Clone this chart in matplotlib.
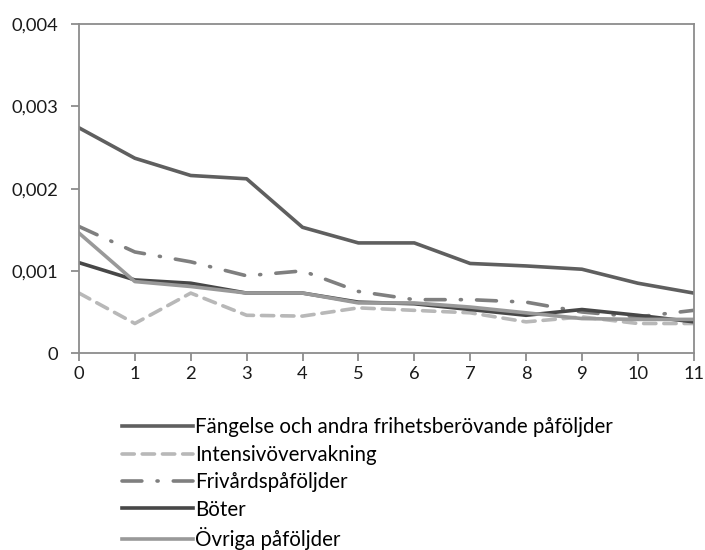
import matplotlib
matplotlib.use("Agg")
import matplotlib.pyplot as plt
from matplotlib.ticker import FuncFormatter

plt.rcParams['font.family'] = ['Lato', 'DejaVu Sans']

# data
years = list(range(12))
fangelse = [0.00274, 0.00237, 0.00216, 0.00212, 0.00153, 0.00134, 0.00134,
            0.00109, 0.00106, 0.00102, 0.00085, 0.00073]
intensiv = [0.00073, 0.00036, 0.00073, 0.00046, 0.00045, 0.00055, 0.00052,
            0.00049, 0.00038, 0.00044, 0.00036, 0.00036]
frivard = [0.00154, 0.00123, 0.00111, 0.00094, 0.00100, 0.00075, 0.00065,
           0.00065, 0.00062, 0.00050, 0.00044, 0.00052]
boter = [0.00110, 0.00089, 0.00085, 0.00073, 0.00073, 0.00062, 0.00060,
         0.00053, 0.00046, 0.00053, 0.00046, 0.00038]
ovriga = [0.00146, 0.00087, 0.00081, 0.00073, 0.00073, 0.00061, 0.00061,
          0.00056, 0.00049, 0.00042, 0.00041, 0.00041]
labels = ["Fängelse och andra frihetsberövande påföljder", "Intensivövervakning",
          "Frivårdspåföljder", "Böter", "Övriga påföljder"]

fig = plt.figure(figsize=(7.05, 5.5), dpi=100)
ax = fig.add_axes([0.112, 0.358, 0.872, 0.598])

lw = 2.6
ax.plot(years, fangelse, color='#5f5f5f', lw=lw, label=labels[0])
ax.plot(years, intensiv, color='#b8b8b8', lw=lw, dashes=(3.4, 2.2),
        dash_capstyle='round', label=labels[1])
ax.plot(years, frivard, color='#7f7f7f', lw=lw, dashes=(5.5, 4.2, 0.3, 4.2),
        dash_capstyle='round', label=labels[2])
ax.plot(years, boter, color='#474747', lw=lw, label=labels[3])
ax.plot(years, ovriga, color='#999999', lw=lw, label=labels[4])

ax.set_xlim(0, 11)
ax.set_ylim(0, 0.004)
ax.set_xticks(years)
ax.set_yticks([0, 0.001, 0.002, 0.003, 0.004])
ax.yaxis.set_major_formatter(FuncFormatter(
    lambda v, p: "0" if v == 0 else f"{v:.3f}".replace(".", ",")))

for s in ax.spines.values():
    s.set_color('#8c8c8c')
    s.set_linewidth(1.3)
ax.tick_params(direction='out', length=6, width=1.3, color='#8c8c8c',
               labelsize=13.2, labelcolor='#1a1a1a')
ax.tick_params(axis='y', pad=9)
ax.tick_params(axis='x', pad=3)

fig.legend(loc='upper left', bbox_to_anchor=(0.173, 0.241), frameon=False,
           fontsize=14.8, handlelength=3.45, handletextpad=0.1,
           labelspacing=0.36, borderaxespad=0, borderpad=0)

fig.savefig("out.png", dpi=100)
